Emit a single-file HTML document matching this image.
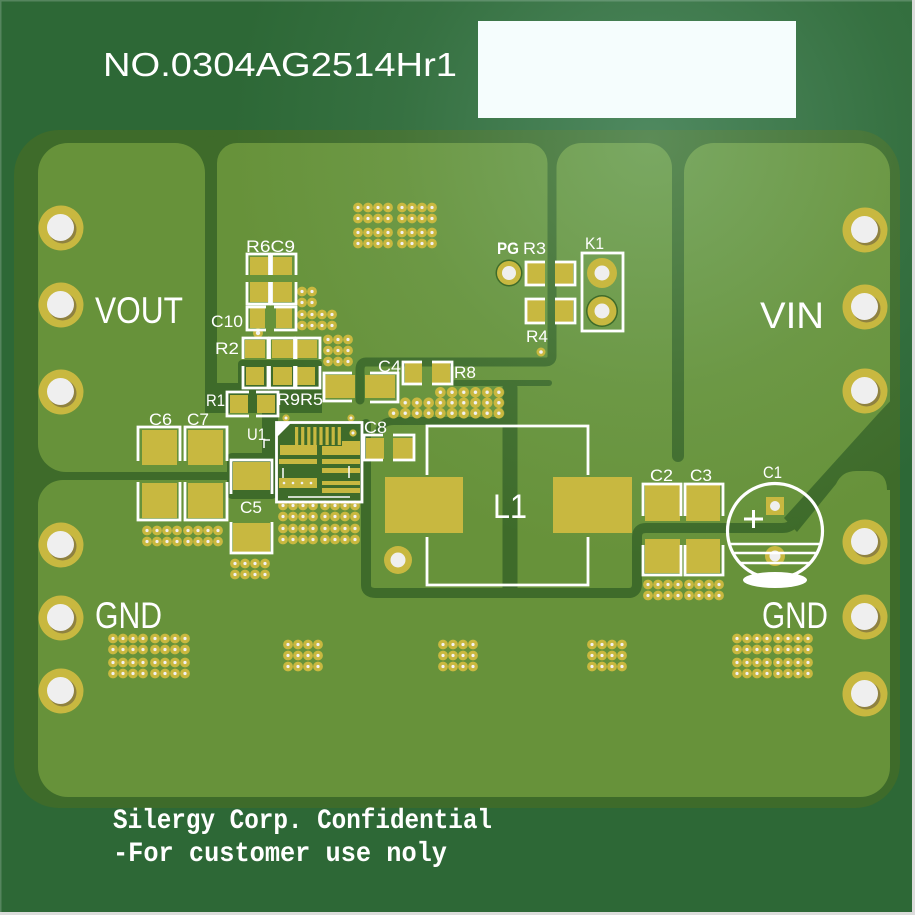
<!DOCTYPE html>
<html><head><meta charset="utf-8">
<style>html,body{margin:0;padding:0;background:#2d6836;}svg{display:block}</style>
</head><body>
<svg width="915" height="915" viewBox="0 0 915 915" xmlns="http://www.w3.org/2000/svg">
<defs>
 <pattern id="v" width="10" height="11" patternUnits="userSpaceOnUse">
   <circle cx="5" cy="5.5" r="4.9" fill="#c9b83f"/>
   <circle cx="5" cy="5.5" r="1.6" fill="#f2f2f2"/>
 </pattern>
 <pattern id="vb" width="11.7" height="10.5" patternUnits="userSpaceOnUse">
   <circle cx="5.85" cy="5.25" r="5.3" fill="#c9b83f"/>
   <circle cx="5.85" cy="5.25" r="1.7" fill="#f2f2f2"/>
 </pattern>
 <radialGradient id="hl" cx="650" cy="140" r="420" gradientUnits="userSpaceOnUse">
   <stop offset="0" stop-color="#b0e8d8" stop-opacity="0.26"/>
   <stop offset="0.6" stop-color="#b0e8d8" stop-opacity="0.07"/>
   <stop offset="1" stop-color="#b0e8d8" stop-opacity="0"/>
 </radialGradient>
</defs>

<!-- board -->
<rect width="915" height="915" fill="#2d6836"/>
<rect x="0" y="0" width="912" height="1.5" fill="#55855e"/>
<rect x="0" y="0" width="1.5" height="912" fill="#55855e"/>
<rect x="912" y="0" width="3" height="915" fill="#dcdcdc"/>
<rect x="0" y="912" width="915" height="3" fill="#dcdcdc"/>

<!-- copper rim and pour -->
<rect x="14" y="130" width="886" height="678" rx="45" fill="#3e6b2a"/>
<rect x="38" y="143" width="852" height="654" rx="30" fill="#67923a"/>

<!-- dark gaps -->
<g fill="#3e6b2a" stroke="none">
  <path d="M175,143 L205,143 L205,173 A30 30 0 0 0 175,143 Z"/>
  <path d="M237,143 L217,143 L217,163 A20 20 0 0 1 237,143 Z"/>
  <path d="M527.5,143 L547.5,143 L547.5,163 A20 20 0 0 0 527.5,143 Z"/>
  <path d="M581.5,143 L556.5,143 L556.5,168 A25 25 0 0 1 581.5,143 Z"/>
  <path d="M647,143 L672,143 L672,168 A25 25 0 0 0 647,143 Z"/>
  <path d="M714,143 L684,143 L684,173 A30 30 0 0 1 714,143 Z"/>
  <path d="M38,444 L38,472 L66,472 A28 28 0 0 1 38,444 Z"/>
  <path d="M38,505 L38,480 L63,480 A25 25 0 0 0 38,505 Z"/>
  <rect x="205" y="383" width="117" height="30"/>
  <rect x="238" y="360" width="84" height="30" rx="4"/>
  <rect x="262" y="408" width="16" height="50"/>
  <rect x="227" y="453" width="50" height="46" rx="5"/>
  <rect x="277" y="422" width="86" height="80"/>
  <path d="M895,396 L878,414 L784,518 L797,532 L836,484 Q842,471 856,471 H868 Q887,471 887,490 L895,490 Z"/>
</g>
<g fill="none" stroke="#3e6b2a" stroke-linecap="round" stroke-linejoin="round">
  <path d="M211,142 V395" stroke-width="12"/>
  <path d="M552,142 V356 Q552,362 545,362 H366 Q360,362 360,370 V400" stroke-width="9"/>
  <path d="M455,383 H549" stroke-width="6"/>
  <path d="M678,142 V456" stroke-width="12"/>
  <path d="M510,388 V590" stroke-width="15"/>
  <path d="M508,421 H394 Q381,421 379,432" stroke-width="8"/>
  <path d="M366,424 V585 Q366,593 376,593 H628 Q637,593 637,584 V537 Q637,528 646,528 H782 Q790,528 795,522" stroke-width="10"/>
  <path d="M20,476 H230" stroke-width="8"/>
</g>

<!-- highlight -->
<rect width="912" height="912" fill="url(#hl)"/>

<!-- label box -->
<rect x="478" y="21" width="318" height="97" fill="#f5fdfd"/>

<!-- U1 interior detail -->
<g fill="#c8b840">
  <rect x="295" y="427" width="3.2" height="18"/>
  <rect x="301.1" y="427" width="3.2" height="18"/>
  <rect x="307.2" y="427" width="3.2" height="18"/>
  <rect x="313.3" y="427" width="3.2" height="18"/>
  <rect x="319.4" y="427" width="3.2" height="18"/>
  <rect x="325.5" y="427" width="3.2" height="18"/>
  <rect x="331.6" y="427" width="3.2" height="18"/>
  <rect x="337.7" y="427" width="3.2" height="18"/>
  <rect x="280" y="445" width="37" height="10"/>
  <rect x="322" y="446" width="38" height="9"/>
  <rect x="342" y="441" width="18" height="5"/>
  <rect x="279" y="459" width="38" height="5"/>
  <rect x="322" y="459" width="38" height="5"/>
  <rect x="322" y="468" width="38" height="5"/>
  <rect x="279" y="478" width="38" height="10"/>
  <rect x="322" y="481" width="38" height="4"/>
  <rect x="322" y="488" width="38" height="5"/>
</g>
<g fill="#f2f2f2">
  <circle cx="284" cy="483" r="1.3"/><circle cx="293" cy="483" r="1.3"/><circle cx="302" cy="483" r="1.3"/><circle cx="311" cy="483" r="1.3"/>
</g>

<!-- pads -->
<g fill="#c8b840">
  <rect x="250" y="257" width="18" height="18"/><rect x="273" y="257" width="19" height="18"/>
  <rect x="250" y="282" width="18" height="20"/><rect x="273" y="282" width="19" height="20"/>
  <rect x="250" y="308" width="15" height="20"/><rect x="276" y="308" width="16" height="20"/>
  <rect x="245" y="340" width="20" height="18"/><rect x="272" y="340" width="21" height="18"/><rect x="297" y="340" width="20" height="18"/>
  <rect x="246" y="367" width="18" height="18"/><rect x="273" y="367" width="19" height="18"/><rect x="297" y="367" width="18" height="18"/>
  <rect x="230" y="395" width="18" height="18"/><rect x="257" y="395" width="18" height="18"/>
  <rect x="325" y="375" width="30" height="23"/><rect x="365" y="375" width="30" height="23"/>
  <rect x="405" y="363" width="17" height="20"/><rect x="432" y="363" width="18" height="20"/>
  <rect x="366" y="438" width="18" height="21"/><rect x="393" y="438" width="20" height="21"/>
  <rect x="233" y="462" width="37" height="28"/><rect x="233" y="523" width="37" height="29"/>
  <rect x="142" y="430" width="35" height="35"/><rect x="142" y="483" width="35" height="35"/>
  <rect x="188" y="430" width="35" height="35"/><rect x="188" y="483" width="35" height="35"/>
  <rect x="385" y="477" width="78" height="56"/><rect x="553" y="477" width="79" height="56"/>
  <rect x="527" y="263" width="18" height="21"/><rect x="555" y="263" width="18" height="21"/>
  <rect x="527" y="300" width="18" height="22"/><rect x="555" y="300" width="18" height="22"/>
  <rect x="645" y="485" width="35" height="36"/><rect x="645" y="539" width="35" height="34"/>
  <rect x="686" y="485" width="34" height="36"/><rect x="686" y="539" width="34" height="34"/>
  <rect x="766" y="497" width="18" height="18"/>
</g>

<!-- via arrays -->
<g transform="translate(353,202)"><rect width="40" height="22" fill="url(#v)"/></g>
<g transform="translate(397,202)"><rect width="40" height="22" fill="url(#v)"/></g>
<g transform="translate(353,227)"><rect width="40" height="22" fill="url(#v)"/></g>
<g transform="translate(397,227)"><rect width="40" height="22" fill="url(#v)"/></g>
<g transform="translate(297,286)"><rect width="20" height="22" fill="url(#v)"/></g>
<g transform="translate(297,309)"><rect width="40" height="22" fill="url(#v)"/></g>
<g transform="translate(323,334)"><rect width="30" height="33" fill="url(#v)"/></g>
<g transform="translate(434.5,387)"><rect width="70.2" height="10.5" fill="url(#vb)"/></g>
<g transform="translate(399.4,397.5)"><rect width="105.3" height="10.5" fill="url(#vb)"/></g>
<g transform="translate(387.7,408)"><rect width="117" height="10.5" fill="url(#vb)"/></g>
<g transform="translate(278,500)"><rect width="40" height="22" fill="url(#v)"/></g>
<g transform="translate(320,500)"><rect width="40" height="22" fill="url(#v)"/></g>
<g transform="translate(278,523)"><rect width="40" height="22" fill="url(#v)"/></g>
<g transform="translate(320,523)"><rect width="40" height="22" fill="url(#v)"/></g>
<g transform="translate(142,525)"><rect width="40" height="22" fill="url(#v)"/></g>
<g transform="translate(183,525)"><rect width="40" height="22" fill="url(#v)"/></g>
<g transform="translate(230,558)"><rect width="40" height="22" fill="url(#v)"/></g>
<g transform="translate(108,633)"><rect width="40" height="22" fill="url(#v)"/></g>
<g transform="translate(150,633)"><rect width="40" height="22" fill="url(#v)"/></g>
<g transform="translate(108,657)"><rect width="40" height="22" fill="url(#v)"/></g>
<g transform="translate(150,657)"><rect width="40" height="22" fill="url(#v)"/></g>
<g transform="translate(283,639)"><rect width="40" height="33" fill="url(#v)"/></g>
<g transform="translate(438,639)"><rect width="40" height="33" fill="url(#v)"/></g>
<g transform="translate(587,639)"><rect width="40" height="33" fill="url(#v)"/></g>
<g transform="translate(732,633)"><rect width="40" height="22" fill="url(#v)"/></g>
<g transform="translate(773,633)"><rect width="40" height="22" fill="url(#v)"/></g>
<g transform="translate(732,657)"><rect width="40" height="22" fill="url(#v)"/></g>
<g transform="translate(773,657)"><rect width="40" height="22" fill="url(#v)"/></g>
<g transform="translate(643,579)"><rect width="40" height="22" fill="url(#v)"/></g>
<g transform="translate(684,579)"><rect width="40" height="22" fill="url(#v)"/></g>

<!-- small vias -->
<g>
  <circle cx="286" cy="418" r="3.6" fill="#c9b83f"/><circle cx="286" cy="418" r="1.5" fill="#f2f2f2"/>
  <circle cx="351" cy="418" r="3.6" fill="#c9b83f"/><circle cx="351" cy="418" r="1.5" fill="#f2f2f2"/>
  <circle cx="353" cy="433" r="3.6" fill="#c9b83f"/><circle cx="353" cy="433" r="1.5" fill="#f2f2f2"/>
  <circle cx="541" cy="352" r="4.5" fill="#c9b83f"/><circle cx="541" cy="352" r="1.8" fill="#f2f2f2"/>
  <circle cx="258" cy="333" r="5" fill="#c9b83f"/><circle cx="258" cy="333" r="2.2" fill="#f2f2f2"/>
</g>

<!-- big holes -->
<g>
  <g transform="translate(61,228)"><circle r="22.5" fill="#c8b840"/><circle cx="1.5" cy="1.5" r="14" fill="#8f8240"/><circle cx="-0.5" cy="-0.5" r="13.5" fill="#efefef"/></g>
  <g transform="translate(61,305)"><circle r="22.5" fill="#c8b840"/><circle cx="1.5" cy="1.5" r="14" fill="#8f8240"/><circle cx="-0.5" cy="-0.5" r="13.5" fill="#efefef"/></g>
  <g transform="translate(61,392)"><circle r="22.5" fill="#c8b840"/><circle cx="1.5" cy="1.5" r="14" fill="#8f8240"/><circle cx="-0.5" cy="-0.5" r="13.5" fill="#efefef"/></g>
  <g transform="translate(61,545)"><circle r="22.5" fill="#c8b840"/><circle cx="1.5" cy="1.5" r="14" fill="#8f8240"/><circle cx="-0.5" cy="-0.5" r="13.5" fill="#efefef"/></g>
  <g transform="translate(61,618)"><circle r="22.5" fill="#c8b840"/><circle cx="1.5" cy="1.5" r="14" fill="#8f8240"/><circle cx="-0.5" cy="-0.5" r="13.5" fill="#efefef"/></g>
  <g transform="translate(61,691)"><circle r="22.5" fill="#c8b840"/><circle cx="1.5" cy="1.5" r="14" fill="#8f8240"/><circle cx="-0.5" cy="-0.5" r="13.5" fill="#efefef"/></g>
  <g transform="translate(865,230)"><circle r="22.5" fill="#c8b840"/><circle cx="1.5" cy="1.5" r="14" fill="#8f8240"/><circle cx="-0.5" cy="-0.5" r="13.5" fill="#efefef"/></g>
  <g transform="translate(865,307)"><circle r="22.5" fill="#c8b840"/><circle cx="1.5" cy="1.5" r="14" fill="#8f8240"/><circle cx="-0.5" cy="-0.5" r="13.5" fill="#efefef"/></g>
  <g transform="translate(865,391)"><circle r="22.5" fill="#c8b840"/><circle cx="1.5" cy="1.5" r="14" fill="#8f8240"/><circle cx="-0.5" cy="-0.5" r="13.5" fill="#efefef"/></g>
  <g transform="translate(865,542)"><circle r="22.5" fill="#c8b840"/><circle cx="1.5" cy="1.5" r="14" fill="#8f8240"/><circle cx="-0.5" cy="-0.5" r="13.5" fill="#efefef"/></g>
  <g transform="translate(865,617)"><circle r="22.5" fill="#c8b840"/><circle cx="1.5" cy="1.5" r="14" fill="#8f8240"/><circle cx="-0.5" cy="-0.5" r="13.5" fill="#efefef"/></g>
  <g transform="translate(865,694)"><circle r="22.5" fill="#c8b840"/><circle cx="1.5" cy="1.5" r="14" fill="#8f8240"/><circle cx="-0.5" cy="-0.5" r="13.5" fill="#efefef"/></g>
  <g transform="translate(398,560)"><circle r="14" fill="#c8b840"/><circle r="7.5" fill="#efefef"/></g>
  <g transform="translate(602,273)"><circle r="15" fill="#c8b840"/><circle r="7.5" fill="#efefef"/></g>
  <g transform="translate(602,311)"><circle r="16" fill="#3e6b2a"/><circle r="14.5" fill="#c8b840"/><circle r="7.5" fill="#efefef"/></g>
  <g transform="translate(509,273)"><circle r="13.5" fill="#3e6b2a"/><circle r="12" fill="#c8b840"/><circle r="7" fill="#efefef"/></g>
  <circle cx="775" cy="506" r="5" fill="#efefef"/>
  <circle cx="775" cy="556" r="10" fill="#c8b840"/><circle cx="775" cy="556" r="5.5" fill="#efefef"/>
</g>

<!-- silkscreen -->
<g fill="none" stroke="#ffffff" stroke-width="2.8">
  <path d="M247,275 V254 H269.5 V275 M247,282 V304 H269.5 V282"/>
  <path d="M271.5,275 V254 H296 V275 M271.5,282 V304 H296 V282"/>
  <path d="M266,307 H247 V330 H266 M274,307 H296 V330 H274"/>
  <path d="M243,359 V338 H268 V359 M243,366 V388 H268 V366"/>
  <path d="M269.5,359 V338 H294.5 V359 M269.5,366 V388 H294.5 V366"/>
  <path d="M296,359 V338 H320 V359 M296,366 V388 H320 V366"/>
  <path d="M249,392 H227 V416 H249 M256,392 H278 V416 H256"/>
  <path d="M352,373 H324 V401 H352 M370,373 H398 V402 H370"/>
  <path d="M422,362 H403 V384 H422 M432,362 H452 V384 H432"/>
  <path d="M383,435 H364 V460 H383 M393,435 H414 V460 H393"/>
  <path d="M138,461 V427 H180 V461 M138,482 V520 H180 V482"/>
  <path d="M185,461 V427 H227 V461 M185,482 V520 H227 V482"/>
  <path d="M231,494 V460 H272 V494 M231,522 V553 H272 V522"/>
  <path d="M427,475 V426 H588 V475 M427,537 V585 H588 V537"/>
  <path d="M545,262 H526 V285 H545 M555,262 H575 V285 H555"/>
  <path d="M545,299 H526 V323 H545 M555,299 H575 V323 H555"/>
  <rect x="582" y="253" width="41" height="78"/>
  <path d="M643,516 V484 H681 V516 M643,545 V575 H681 V545"/>
  <path d="M685,516 V484 H723 V516 M685,545 V575 H723 V545"/>
  <rect x="276.5" y="422.5" width="85.5" height="79.5"/>
  <path d="M283,468 V478 M349,466 V478 M288,497 H350 M264,448 V440 M264,440 H270" stroke-width="1.5"/>
  <circle cx="775" cy="531" r="47.5" stroke-width="3.2"/>
  <path d="M730,544 H820 M733,553 H817 M739,563 H811" stroke-width="2.5"/>
  <path d="M744,519 H763 M753.5,510 V528" stroke-width="3"/>
</g>
<path d="M277,422 H292 L277,437 Z" fill="#ffffff"/>
<ellipse cx="775" cy="580" rx="32" ry="8" fill="#ffffff"/>

<!-- text -->
<g fill="#ffffff" font-family="'Liberation Sans', 'DejaVu Sans', sans-serif">
  <text x="103" y="76" font-size="33" textLength="354" lengthAdjust="spacingAndGlyphs">NO.0304AG2514Hr1</text>
  <text x="95" y="323" font-size="37" textLength="88" lengthAdjust="spacingAndGlyphs">VOUT</text>
  <text x="760" y="328" font-size="37" textLength="64" lengthAdjust="spacingAndGlyphs">VIN</text>
  <text x="95" y="628" font-size="37" textLength="67" lengthAdjust="spacingAndGlyphs">GND</text>
  <text x="762" y="628" font-size="37" textLength="66" lengthAdjust="spacingAndGlyphs">GND</text>
  <text x="493" y="518" font-size="34" textLength="34" lengthAdjust="spacingAndGlyphs">L1</text>
  <g font-size="17">
    <text x="246" y="252" textLength="49" lengthAdjust="spacingAndGlyphs">R6C9</text>
    <text x="211" y="327" textLength="32" lengthAdjust="spacingAndGlyphs">C10</text>
    <text x="215" y="354" textLength="24" lengthAdjust="spacingAndGlyphs">R2</text>
    <text x="206" y="406" textLength="19" lengthAdjust="spacingAndGlyphs">R1</text>
    <text x="277" y="405" textLength="46" lengthAdjust="spacingAndGlyphs">R9R5</text>
    <text x="247" y="440" textLength="19" lengthAdjust="spacingAndGlyphs">U1</text>
    <text x="378" y="372" textLength="23" lengthAdjust="spacingAndGlyphs">C4</text>
    <text x="454" y="378" textLength="22" lengthAdjust="spacingAndGlyphs">R8</text>
    <text x="364" y="433" textLength="23" lengthAdjust="spacingAndGlyphs">C8</text>
    <text x="149" y="425" textLength="23" lengthAdjust="spacingAndGlyphs">C6</text>
    <text x="187" y="425" textLength="22" lengthAdjust="spacingAndGlyphs">C7</text>
    <text x="240" y="513" textLength="22" lengthAdjust="spacingAndGlyphs">C5</text>
    <text x="497" y="254" font-weight="bold" textLength="22" lengthAdjust="spacingAndGlyphs">PG</text>
    <text x="523" y="254" textLength="23" lengthAdjust="spacingAndGlyphs">R3</text>
    <text x="526" y="342" textLength="22" lengthAdjust="spacingAndGlyphs">R4</text>
    <text x="585" y="249" textLength="19" lengthAdjust="spacingAndGlyphs">K1</text>
    <text x="650" y="481" textLength="23" lengthAdjust="spacingAndGlyphs">C2</text>
    <text x="690" y="481" textLength="22" lengthAdjust="spacingAndGlyphs">C3</text>
    <text x="763" y="478" textLength="19" lengthAdjust="spacingAndGlyphs">C1</text>
  </g>
</g>
<g fill="#ffffff" font-family="'Liberation Mono', 'DejaVu Sans Mono', monospace" font-weight="bold" font-size="28">
  <text x="113" y="828" textLength="379" lengthAdjust="spacingAndGlyphs">Silergy Corp. Confidential</text>
  <text x="113" y="861" textLength="334" lengthAdjust="spacingAndGlyphs">-For customer use noly</text>
</g>
</svg>
</body></html>
